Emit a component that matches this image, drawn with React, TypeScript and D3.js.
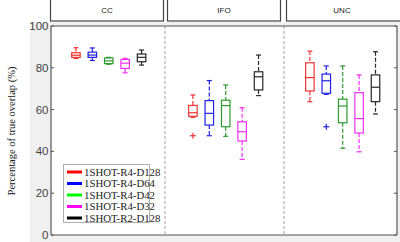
import React from "react";
import * as d3 from "d3";

const groups = ["CC", "IFO", "UNC"];
const seriesNames = ["1SHOT-R4-D128", "1SHOT-R4-D64", "1SHOT-R4-D42", "1SHOT-R4-D32", "1SHOT-R2-D128"];
const boxColors = ["#f03434", "#2020e8", "#2f9a2f", "#f030f0", "#262626"];
const legendColors = ["#ff0000", "#0000ff", "#00ff00", "#ff00ff", "#000000"];

// per series: [group][lowWhisker, q1, median, q3, highWhisker]
const stats1: number[][] = [[84.5, 85, 86, 87.2, 89.6], [56.3, 56.8, 58.5, 62, 67], [63.8, 68.9, 75.3, 82.4, 88.0]];
const stats2: number[][] = [[83.5, 85, 86.1, 87.5, 89.5], [47.5, 52.6, 58.2, 64.3, 73.9], [67.3, 67.8, 73.8, 77.0, 80.9]];
const stats3: number[][] = [[81.7, 82, 83.3, 84.7, 85], [47.2, 51.8, 61.9, 64.5, 71.8], [41.5, 53.7, 61.7, 65.0, 80.9]];
const stats4: number[][] = [[77.6, 79.7, 82.2, 84, 84.5], [36.2, 45, 49.4, 54.2, 60.9], [39.8, 48.8, 55.7, 68.1, 76.6]];
const stats5: number[][] = [[81.3, 82.9, 85, 86.6, 88.5], [66.7, 69.4, 75.7, 78.1, 86.1], [57.9, 63.8, 70.7, 76.6, 87.7]];
const allStats = [stats1, stats2, stats3, stats4, stats5];
// outliers: [seriesIndex, groupIndex, value]
const outliers: [number, number, number][] = [[0, 1, 47.5], [1, 2, 51.8]];

const yTicks = [0, 20, 40, 60, 80, 100];

const W = 400, H = 242;
const plotL = 51, plotR = 397, plotT = 26, plotB = 235;
const groupStep = 7.13;
const dividers = [5.43, 12.68];

export default function App() {
  const x = d3.scaleLinear().domain([-1.52, 19.57]).range([plotL, plotR]);
  const y = d3.scaleLinear().domain([0, 100]).range([plotB, plotT]);
  const pos = (g: number, s: number) => x(g * groupStep + s);
  const bw = 8.5;
  const cap = 5;
  const strips = [[50, 163], [167, 280], [286, 402]];

  return (
    <svg width={W} height={H} style={{ position: "absolute", left: 0, top: 0 }}>
      <rect x={0} y={0} width={W} height={H} fill="#ffffff" />
      <rect x={30} y={22} width={W - 30} height={H - 22} fill="#f0f0f0" />
      <rect x={plotL} y={plotT} width={plotR - plotL} height={plotB - plotT} fill="#ffffff" />

      {/* strips */}
      {groups.map((g, i) => (
        <g key={g}>
          <rect x={strips[i][0] + 0.5} y={-2} width={strips[i][1] - strips[i][0]} height={23}
            fill="#ffffff" stroke="#444" strokeWidth={1.2} />
          <text x={(strips[i][0] + Math.min(strips[i][1], 397)) / 2 + 0.5} y={12.5} textAnchor="middle"
            fontFamily="Liberation Sans, Arial, sans-serif" fontSize={8} fill="#222">{g}</text>
        </g>
      ))}

      {/* dividers */}
      {dividers.map((d, i) => (
        <line key={i} x1={x(d)} x2={x(d)} y1={plotT} y2={plotB} stroke="#888" strokeWidth={0.8} strokeDasharray="3,2" />
      ))}

      {/* axes */}
      <line x1={plotL} x2={plotL} y1={plotT} y2={plotB} stroke="#555" strokeWidth={1.2} />
      <line x1={plotL} x2={plotR} y1={plotB} y2={plotB} stroke="#555" strokeWidth={1.2} />
      <line x1={plotR} x2={plotR} y1={plotT} y2={plotB} stroke="#555" strokeWidth={1.2} />
      <line x1={plotL} x2={plotR} y1={plotT} y2={plotT} stroke="#555" strokeWidth={1.2} />
      {yTicks.map((t) => (
        <g key={t}>
          <line x1={plotL} x2={plotL + 3} y1={y(t)} y2={y(t)} stroke="#555" />
          <line x1={plotR - 3} x2={plotR} y1={y(t)} y2={y(t)} stroke="#555" />
          <text x={plotL - 2.5} y={y(t) + 4} textAnchor="end" fontFamily="Liberation Sans, Arial, sans-serif"
            fontSize={11.5} fill="#444">{t}</text>
        </g>
      ))}

      <text transform={`translate(14.5,${131}) rotate(-90)`} textAnchor="middle"
        fontFamily="Liberation Serif, Times New Roman, serif" fontSize={10.5} fill="#111">Percentage of true overlap (%)</text>

      {/* boxes */}
      {allStats.map((st, s) => st.map((v, g) => {
        const cx = pos(g, s);
        const [lo, q1, med, q3, hi] = v;
        const c = boxColors[s];
        return (
          <g key={`${s}-${g}`} stroke={c} fill="none" strokeWidth={1.2}>
            <line x1={cx} x2={cx} y1={y(hi)} y2={y(q3)} strokeDasharray="4,2" />
            <line x1={cx} x2={cx} y1={y(q1)} y2={y(lo)} strokeDasharray="4,2" />
            <line x1={cx - cap / 2} x2={cx + cap / 2} y1={y(hi)} y2={y(hi)} />
            <line x1={cx - cap / 2} x2={cx + cap / 2} y1={y(lo)} y2={y(lo)} />
            <rect x={cx - bw / 2} y={y(q3)} width={bw} height={y(q1) - y(q3)} />
            <line x1={cx - bw / 2} x2={cx + bw / 2} y1={y(med)} y2={y(med)} />
          </g>
        );
      }))}
      {outliers.map(([s, g, v], i) => {
        const cx = pos(g, s);
        return (
          <g key={i} stroke={boxColors[s]} strokeWidth={1.2}>
            <line x1={cx - 3} x2={cx + 3} y1={y(v)} y2={y(v)} />
            <line x1={cx} x2={cx} y1={y(v) - 3} y2={y(v) + 3} />
          </g>
        );
      })}

      {/* legend */}
      <rect x={63.5} y={164.5} width={86} height={58} fill="#ffffff" stroke="#999" strokeWidth={0.8} />
      {seriesNames.map((n, i) => (
        <g key={n}>
          <line x1={67} x2={82} y1={172 + i * 11.5} y2={172 + i * 11.5} stroke={legendColors[i]} strokeWidth={3} />
          <text x={84} y={175.8 + i * 11.5} fontFamily="Liberation Serif, Times New Roman, serif" fontSize={10.8} fill="#222">{n}</text>
        </g>
      ))}
    </svg>
  );
}
